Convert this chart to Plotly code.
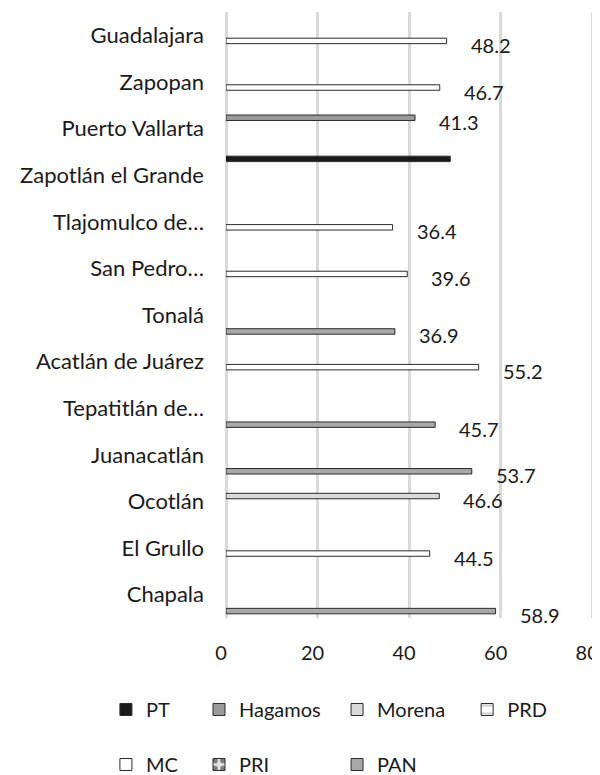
import plotly.graph_objects as go

categories = ["Guadalajara", "Zapopan", "Puerto Vallarta", "Zapotlán el Grande",
              "Tlajomulco de…", "San Pedro…", "Tonalá", "Acatlán de Juárez",
              "Tepatitlán de…", "Juanacatlán", "Ocotlán", "El Grullo", "Chapala"]
winner = ["MC", "MC", "Hagamos", "PT", "MC", "MC", "PAN", "MC",
          "PAN", "PAN", "Morena", "MC", "PAN"]
share = [48.2, 46.7, 41.3, 49.0, 36.4, 39.6, 36.9, 55.2, 45.7, 53.7, 46.6, 44.5, 58.9]
share_label = ["48.2", "46.7", "41.3", "", "36.4", "39.6", "36.9", "55.2",
               "45.7", "53.7", "46.6", "44.5", "58.9"]
parties = ["PT", "Hagamos", "Morena", "PRD", "MC", "PRI", "PAN"]

FONT = "Lato"
TXT = "#1a1a1a"
EDGE = "#2b2b2b"
styles = {
    "PT": dict(color="#1a1a1a"),
    "Hagamos": dict(color="#9a9a9a"),
    "Morena": dict(color="#dadada"),
    "PRD": dict(color="white", pattern=dict(shape="-", fgcolor=EDGE, bgcolor="white",
                                            size=12, solidity=0.12, fillmode="overlay")),
    "MC": dict(color="white"),
    "PRI": dict(color="#e6e6e6", pattern=dict(shape=".", fgcolor="#111", bgcolor="#e6e6e6",
                                              size=13, solidity=0.4, fillmode="overlay")),
    "PAN": dict(color="#a8a8a8"),
}
# legend column for each party (Excel lays legend out in two rows)
legend_of = {"PT": "legend", "MC": "legend", "Hagamos": "legend2", "PRI": "legend2",
             "Morena": "legend3", "PAN": "legend3", "PRD": "legend4"}

fig = go.Figure()
for p in parties:
    vals = [v if w == p else None for v, w in zip(share, winner)]
    fig.add_trace(go.Bar(
        y=categories, x=vals, name=p, orientation="h",
        marker=dict(line=dict(color=EDGE, width=1), **styles[p]),
        legend=legend_of[p], legendgroup=p, hoverinfo="skip",
    ))

# page body has an 8px margin; the figure runs a bit past the window bottom
# so the legends fit without pushing the margins
W, H = 592, 800
L, R, T, B = 218, 6.2, 4, 190
bargap = 0.18
cat_px = (H - T - B) / len(categories)
bar_px = cat_px * (1 - bargap) / len(parties)

for c, w, v, lab in zip(categories, winner, share, share_label):
    if not lab:
        continue
    slot = parties.index(w) - (len(parties) - 1) / 2
    fig.add_annotation(x=v, y=c, text=lab, showarrow=False, xanchor="left",
                       yanchor="middle", xshift=22, yshift=-slot * bar_px - 4,
                       font=dict(family=FONT, size=20, color=TXT))

legend_common = dict(orientation="v", font=dict(family=FONT, size=20, color=TXT),
                     itemwidth=30, tracegroupgap=26, xanchor="left", yanchor="top",
                     bgcolor="rgba(0,0,0,0)", itemclick=False, itemdoubleclick=False)
leg_y = -0.1188

fig.update_layout(
    width=W, height=H,
    margin=dict(l=L, r=R, t=T, b=B),
    paper_bgcolor="white", plot_bgcolor="white",
    barmode="group", bargap=bargap, bargroupgap=0,
    font=dict(family=FONT, size=20, color=TXT),
    legend=dict(x=-0.3263, y=leg_y, **legend_common),
    legend2=dict(x=-0.0734, y=leg_y, **legend_common),
    legend3=dict(x=0.3018, y=leg_y, **legend_common),
    legend4=dict(x=0.6553, y=leg_y, **legend_common),
    xaxis=dict(range=[0, 80.4], tickvals=[0, 20, 40, 60, 80], showgrid=True,
               gridcolor="#d9d9d9", gridwidth=2.5,
               zeroline=True, zerolinecolor="#d9d9d9", zerolinewidth=2.5,
               showline=False, ticks="", ticklabelstandoff=21, ticklabelshift=-5,
               automargin=False, ticklabeloverflow="allow",
               tickfont=dict(family=FONT, size=20, color=TXT)),
    yaxis=dict(autorange="reversed", showgrid=False, showline=False, ticks="",
               ticklabelstandoff=21, automargin=False,
               tickfont=dict(family=FONT, size=22, color=TXT)),
)

# no scrollbar for the slightly taller figure
fig.write_html("out.html", post_script="document.documentElement.style.overflow='hidden';"
                                       "document.body.style.overflow='hidden';")
